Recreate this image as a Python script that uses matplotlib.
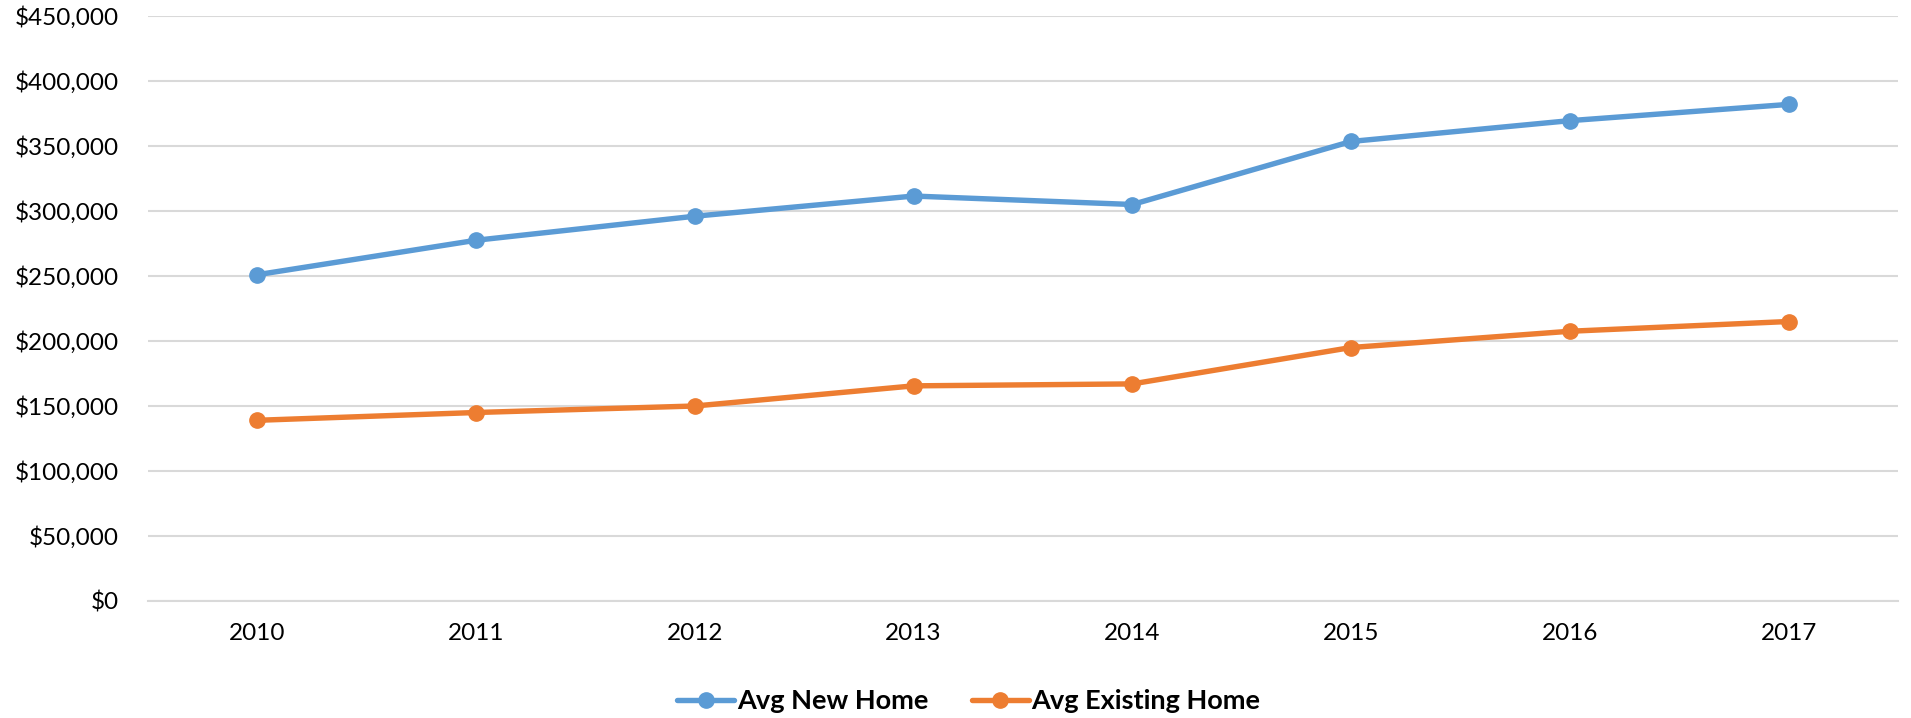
import matplotlib
matplotlib.use("Agg")
import matplotlib.pyplot as plt
from matplotlib.ticker import FuncFormatter

plt.rcParams['font.family'] = ['Lato', 'DejaVu Sans']

# DATA
years = ["2010", "2011", "2012", "2013", "2014", "2015", "2016", "2017"]
avg_new_home = [251000, 277500, 296000, 311500, 305000, 353500, 369500, 382000]
avg_existing_home = [139000, 145000, 150000, 165500, 167000, 195000, 207500, 215000]

fig = plt.figure(figsize=(19.11, 7.18), dpi=100)
ax = fig.add_axes([148 / 1911, 117 / 718, 1750 / 1911, 585 / 718])

x = range(len(years))
ax.plot(x, avg_new_home, color="#5B9BD5", lw=3.9, marker="o", ms=11,
        label="Avg New Home", solid_capstyle="round")
ax.plot(x, avg_existing_home, color="#ED7D31", lw=3.9, marker="o", ms=11,
        label="Avg Existing Home", solid_capstyle="round")

ax.set_xlim(-0.5, len(years) - 0.5)
ax.set_ylim(0, 450000)
ax.set_yticks(range(0, 450001, 50000))
ax.yaxis.set_major_formatter(FuncFormatter(lambda v, p: "${:,.0f}".format(v)))
ax.set_xticks(list(x))
ax.set_xticklabels(years)

ax.grid(axis="y", color="#D9D9D9", lw=1.5)
ax.set_axisbelow(True)
for s in ["top", "right", "left"]:
    ax.spines[s].set_visible(False)
ax.spines["bottom"].set_color("#D9D9D9")
ax.spines["bottom"].set_linewidth(1.5)
ax.tick_params(axis="both", length=0, labelsize=17.5, colors="#000000")
ax.tick_params(axis="y", pad=21)
ax.tick_params(axis="x", pad=16)

leg = fig.legend(loc="center", bbox_to_anchor=(0.507, 1 - 701 / 718), ncol=2,
                 frameon=False, prop={"weight": "bold", "size": 19.5},
                 handlelength=2.1, handletextpad=0.1, columnspacing=1.6)

fig.savefig("out.png", dpi=100)
